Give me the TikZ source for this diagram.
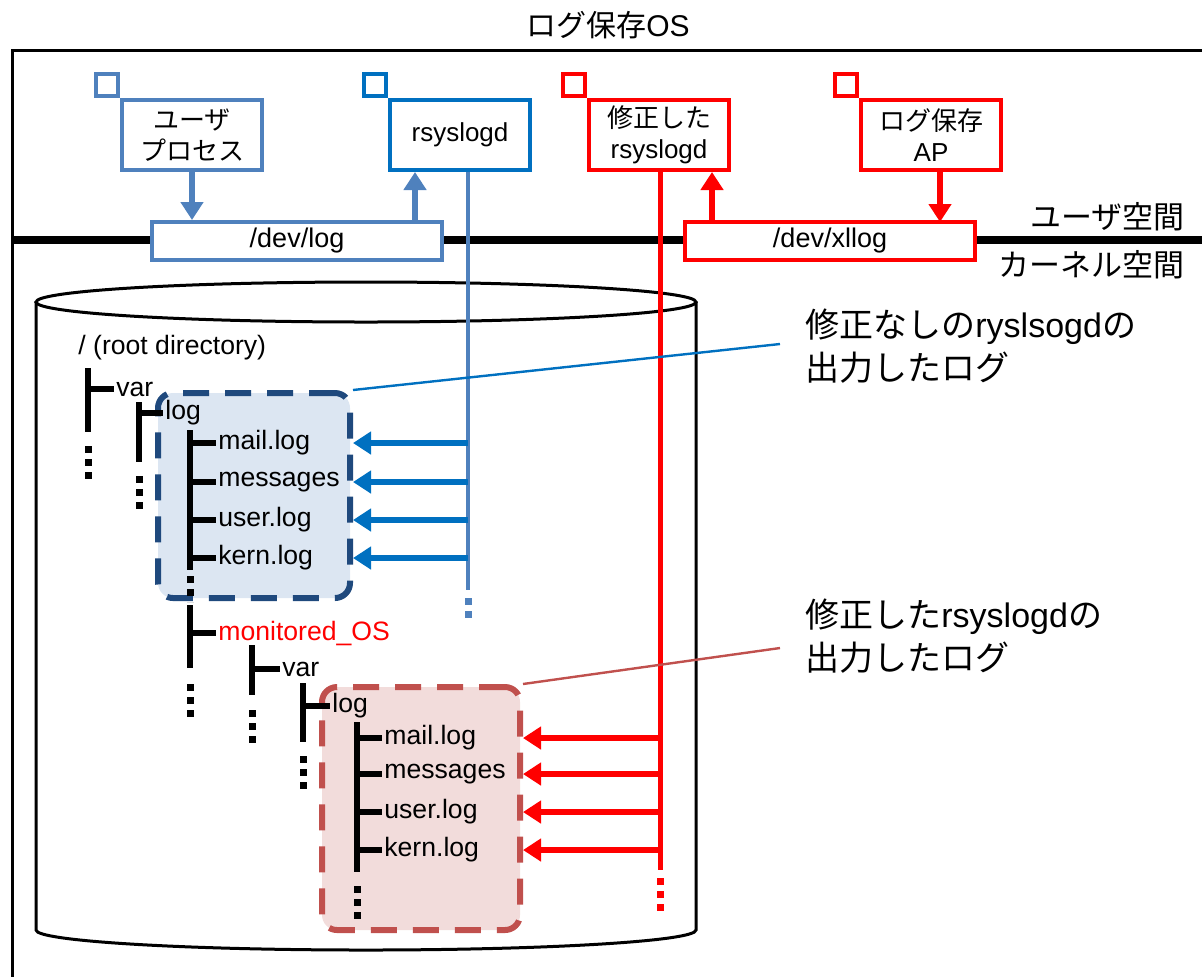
\documentclass[tikz,border=0pt]{standalone}
\usepackage{fontspec}
\setmainfont{Liberation Sans}
\newfontfamily\jp{Noto Sans CJK JP}
\usepackage{tikz}
\usetikzlibrary{arrows.meta, positioning, calc}
\definecolor{lgSteel}{HTML}{4F81BD}
\definecolor{lgBlue}{HTML}{0070C0}
\definecolor{lgRed}{HTML}{FF0000}
\definecolor{lgNavy}{HTML}{1F497D}
\definecolor{lgNavyBg}{HTML}{DCE6F2}
\definecolor{lgBrick}{HTML}{C0504D}
\definecolor{lgBrickBg}{HTML}{F2DCDB}

\begin{document}
\begin{tikzpicture}[x=0.5pt, y=-0.5pt,
  proc/.style={draw, line width=2pt, fill=white, align=center, inner sep=0pt,
               minimum width=70pt, minimum height=35pt, font=\fontsize{13}{15.5}\selectfont},
  tag/.style={draw, line width=2pt, inner sep=0pt, minimum size=11pt, anchor=south east},
  dev/.style={draw, line width=2pt, fill=white, inner sep=0pt, minimum width=145pt,
              minimum height=19pt, font=\fontsize{13.5}{16}\selectfont},
  item/.style={anchor=west, inner sep=1pt, font=\fontsize{13.3}{16}\selectfont},
  bar/.style={line width=3pt},
  dots/.style={line width=3.5pt, dash pattern=on 3.5pt off 3pt},
  arr/.style={-{Triangle[length=9pt, width=11pt]}, line width=3pt},
  logbox/.style={rounded corners=7.5pt, line width=3pt, dash pattern=on 13pt off 8pt},
  note/.style={anchor=west, align=left, inner sep=0pt, font=\fontsize{17}{21.5}\selectfont}
]
\useasboundingbox (0,0) rectangle (1202,976);

% OS frame and user/kernel boundary
\node[font=\fontsize{15}{18}\selectfont] (title) at (608,25) {{\jp ログ保存}OS};
\draw[line width=1.5pt] (12,990) -- (12,50) -- (1215,50);
\draw[line width=4pt] (12,240) -- (1215,240);
\node[anchor=east, font=\fontsize{15.5}{18}\selectfont] (usp) at (1192,217) {\jp ユーザ空間};
\node[anchor=east, font=\fontsize{15.5}{18}\selectfont] (ksp) at (1192,265) {\jp カーネル空間};

% disk
\draw[line width=1.5pt] (366,302) ellipse[x radius=330, y radius=20];
\draw[line width=1.5pt] (36,302) -- (36,930) arc[start angle=180, end angle=0, x radius=330, y radius=20] -- (696,302);

% processes
\node[proc, draw=lgSteel] (user) at (192,135) {\jp ユーザ\\\jp プロセス};
\node[tag, draw=lgSteel] at (user.north west) {};
\node[proc, draw=lgBlue] (rsys) at (460,135) {rsyslogd};
\node[tag, draw=lgBlue] at (rsys.north west) {};
\node[proc, draw=lgRed] (mrsys) at (659,135) {{\jp 修正した}\\rsyslogd};
\node[tag, draw=lgRed] at (mrsys.north west) {};
\node[proc, draw=lgRed] (ap) at (931,135) {{\jp ログ保存}\\AP};
\node[tag, draw=lgRed] at (ap.north west) {};

\node[dev, draw=lgSteel] (devlog) at (297,241) {/dev/log};
\node[dev, draw=lgRed] (xllog) at (830,241) {/dev/xllog};

\coordinate (up1) at (415,222);
\coordinate (up2) at (712,222);
\draw[arr, lgSteel] (user.south) -- (user.south |- devlog.north);
\draw[arr, lgSteel] (up1) -- (up1 |- rsys.south);
\draw[arr, lgRed] (up2) -- (up2 |- mrsys.south);
\draw[arr, lgRed] (ap.south -| 940,0) -- (940,222);

% log directories
\node[logbox, draw=lgNavy, fill=lgNavyBg, minimum width=96pt, minimum height=102.5pt] (blbox) at (254,495.5) {};
\node[logbox, draw=lgBrick, fill=lgBrickBg, minimum width=99pt, minimum height=121.5pt] (rdbox) at (421,808.5) {};

% tree
\node[item] (root) at (76,348) {/ (root directory)};
\node[item] (var1) at (114,389) {var};
\node[item] (log1) at (163,413) {log};
\node[item] (mail1) at (216,443) {mail.log};
\node[item] (msg1) at (216,482) {messages};
\node[item] (usr1) at (216,520) {user.log};
\node[item] (kern1) at (216,558) {kern.log};
\node[item, text=lgRed] (mon) at (216,633) {monitored\_OS};
\node[item] (var2) at (280,669) {var};
\node[item] (log2) at (330,706) {log};
\node[item] (mail2) at (382,738) {mail.log};
\node[item] (msg2) at (382,774) {messages};
\node[item] (usr2) at (382,812) {user.log};
\node[item] (kern2) at (382,850) {kern.log};

\coordinate (s1) at (88,368);
\coordinate (s2) at (139,402);
\coordinate (s3) at (190,430);
\coordinate (s4) at (190,605);
\coordinate (s5) at (252,645);
\coordinate (s6) at (303,683);
\coordinate (s7) at (357,722);

\draw[bar] (s1) -- ++(0,64);
\draw[dots] (88,446) -- (88,482);
\draw[bar] (s1 |- var1.west) -- (var1.west);
\draw[bar] (s2) -- ++(0,60);
\draw[dots] (139,476) -- (139,512);
\draw[bar] (s2 |- log1.west) -- (log1.west);
\draw[bar] (s3) -- ++(0,140);
\draw[dots] (190,576) -- (190,602);
\foreach \f in {mail1, msg1, usr1, kern1}
  \draw[bar] (s3 |- \f.west) -- (\f.west);
\draw[bar] (s4) -- ++(0,63);
\draw[dots] (190,684) -- (190,720);
\draw[bar] (s4 |- mon.west) -- (mon.west);
\draw[bar] (s5) -- ++(0,50);
\draw[dots] (252,710) -- (252,746);
\draw[bar] (s5 |- var2.west) -- (var2.west);
\draw[bar] (s6) -- ++(0,59);
\draw[dots] (303,756) -- (303,792);
\draw[bar] (s6 |- log2.west) -- (log2.west);
\draw[bar] (s7) -- ++(0,150);
\draw[dots] (357,886) -- (357,922);
\foreach \f in {mail2, msg2, usr2, kern2}
  \draw[bar] (s7 |- \f.west) -- (\f.west);

% rsyslogd outputs
\coordinate (bt) at (468,590);
\coordinate (rt) at (660,870);
\draw[lgSteel, line width=2pt] (rsys.south -| bt) -- (bt);
\draw[lgSteel, dots] (468,598) -- (468,624);
\draw[lgRed, line width=2.5pt] (mrsys.south -| rt) -- (rt);
\draw[lgRed, dots] (660,878) -- (660,914);
\foreach \f in {mail1, msg1, usr1, kern1}
  \draw[arr, lgBlue] (bt |- \f.west) -- (blbox.east |- \f.west);
\foreach \f in {mail2, msg2, usr2, kern2}
  \draw[arr, lgRed] (rt |- \f.west) -- (rdbox.east |- \f.west);

% callouts
\node[note] (note1) at (805,346) {{\jp 修正なしの}ryslsogd{\jp の}\\\jp 出力したログ};
\node[note] (note2) at (805,636) {{\jp 修正した}rsyslogd{\jp の}\\\jp 出力したログ};
\coordinate (c1) at (780,344);
\coordinate (c2) at (780,648);
\draw[lgBlue, line width=1.2pt] (blbox.north east) -- (c1);
\draw[lgBrick, line width=1.2pt] (rdbox.north east) -- (c2);
\end{tikzpicture}
\end{document}
